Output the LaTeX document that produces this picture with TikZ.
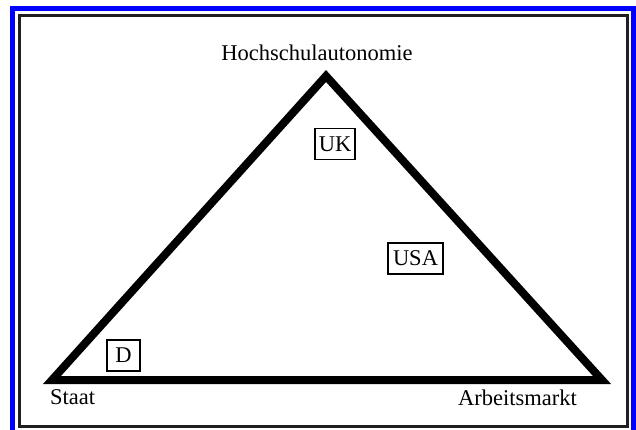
\documentclass[tikz,border=0pt]{standalone}
\usepackage{fontspec}
\setmainfont{Liberation Serif}
\begin{document}
\begin{tikzpicture}[x=1pt,y=-1pt,
  lbl/.style={font=\fontsize{22.5}{27}\selectfont, inner sep=0pt},
  cbox/.style={draw, line width=1.6pt, font=\fontsize{22.5}{27}\selectfont, inner sep=0pt, minimum height=31pt},
  tri/.style={line width=8pt, line join=miter, miter limit=20}]
\useasboundingbox (0,0) rectangle (636,430);
\fill[white] (0,0) rectangle (636,430);
\draw[blue, line width=5pt] (12.5,8.5) rectangle (633.5,440);
\draw[black!88, line width=3pt] (19.5,15.5) rectangle (627.5,426.7);
\coordinate (top) at (326,76);
\coordinate (left) at (52,380);
\coordinate (right) at (602,380);
\draw[tri] (left) -- (top) -- (right) -- cycle;
\node[lbl, anchor=base] (hoch) at (317,61) {Hochschulautonomie};
\node[lbl, anchor=base west] (staat) at (50,404) {Staat};
\node[lbl, anchor=base east] (arb) at (577,405) {Arbeitsmarkt};
\node[cbox, minimum width=40pt] (uk) at (335,144) {UK};
\node[cbox, minimum width=55pt] (usa) at (415.5,258.5) {USA};
\node[cbox, minimum width=33pt] (d) at (123.5,355.5) {D};
\end{tikzpicture}
\end{document}
